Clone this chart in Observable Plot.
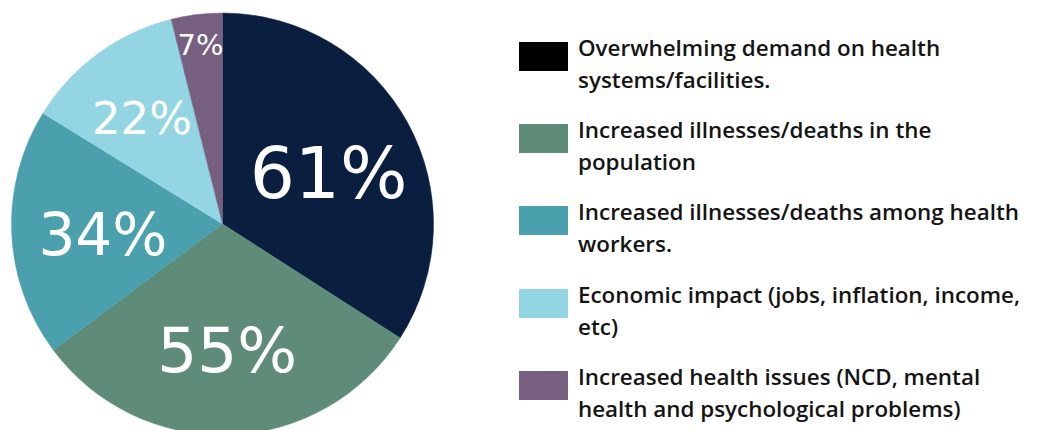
<!DOCTYPE html>
<html><head><meta charset="utf-8">
<script src="https://cdn.jsdelivr.net/npm/d3@7"></script>
<script src="https://cdn.jsdelivr.net/npm/@observablehq/plot@0.6"></script>
<style>
html,body{margin:0;padding:0;background:#fff;}
#wrap{position:relative;width:1040px;height:430px;overflow:hidden;}
#chart{position:absolute;left:0;top:0;}
#legend{position:absolute;left:519px;top:0;font-family:"Open Sans",sans-serif;font-weight:600;font-size:22.4px;line-height:32px;color:#141414;}
.item{position:absolute;left:0;width:521px;height:70px;}
.sw{position:absolute;left:0;top:10px;width:49px;height:29px;}
.tx{position:absolute;left:59px;top:0;white-space:nowrap;}
</style></head><body><div id="wrap"><div id="chart"></div><div id="legend"></div></div>
<script>
// ---- data ----
const legendLines = [
  ["Overwhelming demand on health", "systems/facilities."],
  ["Increased illnesses/deaths in the", "population"],
  ["Increased illnesses/deaths among health", "workers."],
  ["Economic impact (jobs, inflation, income,", "etc)"],
  ["Increased health issues (NCD, mental", "health and psychological problems)"]
];
const categories = legendLines.map(l => l.join(" "));
const values = [61, 55, 34, 22, 7];
const valueLabels = ["61%", "55%", "34%", "22%", "7%"];

// ---- styles ----
const sliceColors = ["#0a1f40", "#5e8c78", "#4aa0ad", "#93d5e2", "#77607f"];
const swatchColors = ["#000000", "#5e8c78", "#4aa0ad", "#93d5e2", "#77607f"];
const labelFontSize = [71, 63, 58, 45, 29];

const R = 211; // pixel radius used to convert em offsets to data units
const arcs = d3.pie().sort(null).value(d => d)(values);
const total = d3.sum(values);
const rows = arcs.map((a, i) => {
  const mid = (a.startAngle + a.endAngle) / 2;
  const frac = values[i] / total;
  const k = frac < 0.05 ? 0.87 : frac < 0.15 ? 0.65 : 0.57;
  const size = labelFontSize[i];
  return {category: categories[i], label: valueLabels[i], x: Math.sin(mid) * k, y: Math.cos(mid) * k - size * 0.12 / R, size};
});

const xRange = [11.5, 11.5 + 2 * R], yRange = [224 + R, 224 - R];
const pieMark = (index, scales) => {
  const sx = typeof scales.x === "function" ? scales.x : d3.scaleLinear([-1, 1], xRange);
  const sy = typeof scales.y === "function" ? scales.y : d3.scaleLinear([-1, 1], yRange);
  const cx = sx(0), cy = sy(0), r = Math.abs(sx(1) - sx(0));
  const g = d3.create("svg:g").attr("transform", `translate(${cx},${cy})`);
  const arc = d3.arc().innerRadius(0).outerRadius(r);
  g.selectAll("path").data(arcs).join("path")
    .attr("d", arc)
    .attr("fill", (d, i) => sliceColors[i])
    .attr("stroke", (d, i) => sliceColors[i])
    .attr("stroke-width", 0.5);
  return g.node();
};

const chart = Plot.plot({
  width: 450,
  height: 430,
  margin: 0,
  x: {domain: [-1, 1], range: xRange, axis: null},
  y: {domain: [-1, 1], range: yRange, axis: null},
  marks: [
    pieMark,
    Plot.text(rows, {
      x: "x", y: "y", text: "label",
      fontSize: d => d.size,
      fill: "white",
      fontFamily: "DejaVu Sans",
      fontWeight: 500,
      textAnchor: "middle",
      lineAnchor: "middle"
    })
  ]
});
document.getElementById("chart").appendChild(chart);

const legend = d3.select("#legend");
const items = legend.selectAll(".item").data(categories).join("div")
  .attr("class", "item")
  .style("top", (d, i) => (32 + i * 82.2) + "px");
items.append("div").attr("class", "sw").style("background", (d, i) => swatchColors[i]);
items.append("div").attr("class", "tx").html((d, i) => legendLines[i].join("<br>"));
</script>
</body></html>
